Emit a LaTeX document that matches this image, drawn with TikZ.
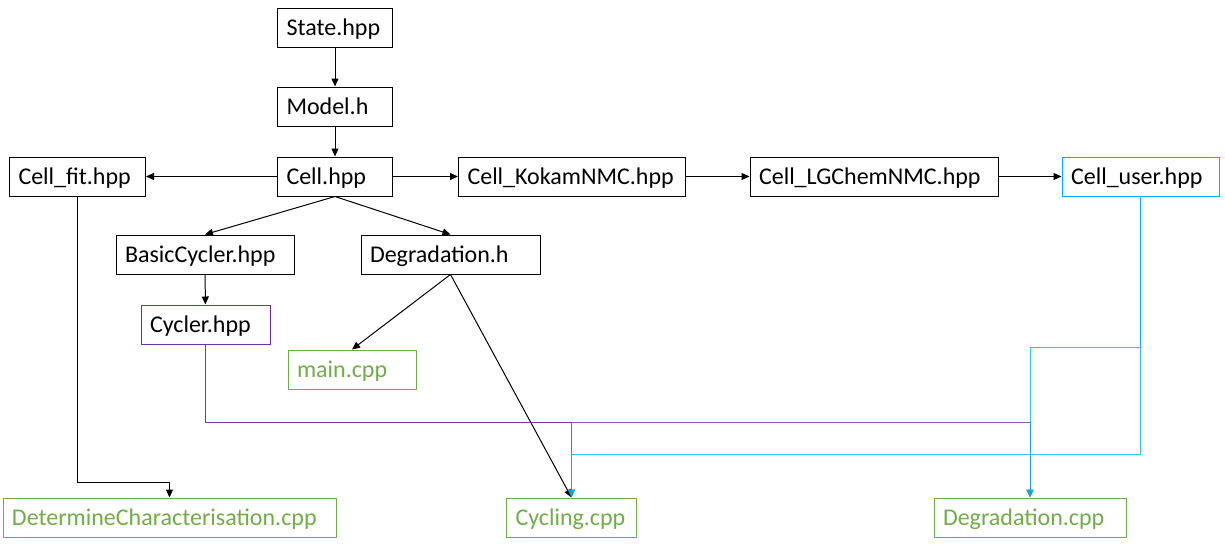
\documentclass[tikz,border=0pt]{standalone}
\usepackage{fontspec}
\setmainfont{Carlito}
\usetikzlibrary{arrows.meta}
\definecolor{codegreen}{HTML}{70AD47}
\definecolor{cycpurple}{HTML}{7030A0}
\definecolor{usercyan}{HTML}{00B0F0}

\tikzset{
  box/.style={draw,line width=1pt,minimum height=39pt,inner xsep=9pt,inner ysep=0pt,
    text width=#1,text height=20pt,text depth=5pt,align=left,
    font=\fontsize{24}{28}\selectfont},
  srcbox/.style={box=#1,draw=codegreen,text=codegreen},
  arr/.style={line width=1pt,-{Triangle[length=8pt,width=7pt]}},
}

\begin{document}
\begin{tikzpicture}[x=1pt,y=-1pt]
    \useasboundingbox (0,0) rectangle (1225,550);
    % headers
    \node[box=97] (state) at (335,28) {State.hpp};
    \node[box=97] (model) at (335,106.5) {Model.h};
    \node[box=97] (cell) at (335,176.5) {Cell.hpp};
    \node[box=118] (cellfit) at (77.5,176.5) {Cell\_fit.hpp};
    \node[box=209] (kokam) at (572,176.5) {Cell\_KokamNMC.hpp};
    \node[box=230] (lgchem) at (874,176.5) {Cell\_LGChemNMC.hpp};
    \node[box=139,draw=usercyan] (celluser) at (1140.5,176.5) {Cell\_user.hpp};
    \node[box=160] (basic) at (205,254.5) {BasicCycler.hpp};
    \node[box=161] (degh) at (450.5,254.5) {Degradation.h};
    \node[box=111,draw=cycpurple] (cycler) at (205.5,324.5) {Cycler.hpp};
    % sources
    \node[srcbox=110] (main) at (352,369.5) {main.cpp};
    \node[srcbox=315] (detchar) at (169.5,517.5) {DetermineCharacterisation.cpp};
    \node[srcbox=112] (cycling) at (571.5,517.5) {Cycling.cpp};
    \node[srcbox=174] (degcpp) at (1030,517.5) {Degradation.cpp};

    \foreach \a/\b in {state/model,model/cell,cell/cellfit,cell/kokam,kokam/lgchem,
      lgchem/celluser,basic/cycler}
      \draw[arr] (\a) -- (\b);
    \foreach \b in {basic,degh}
      \draw[arr] (cell.south) -- (\b.north);
    \foreach \b in {main,cycling}
      \draw[arr] (degh.south) -- (\b.north);
    \draw[arr] (cellfit.south) -- ++(0,286) -| (detchar.north);

    \begin{scope}[draw opacity=0.8,fill opacity=0.8]
      \foreach \b in {cycling,degcpp}
        \draw[arr,cycpurple] (cycler.south) -- ++(0,77.5) -| (\b.north);
      \draw[arr,usercyan] (celluser.south) -- ++(0,151) -| (degcpp.north);
      \draw[arr,usercyan] (celluser.south) -- ++(0,258) -| (cycling.north);
    \end{scope}
\end{tikzpicture}
\end{document}
